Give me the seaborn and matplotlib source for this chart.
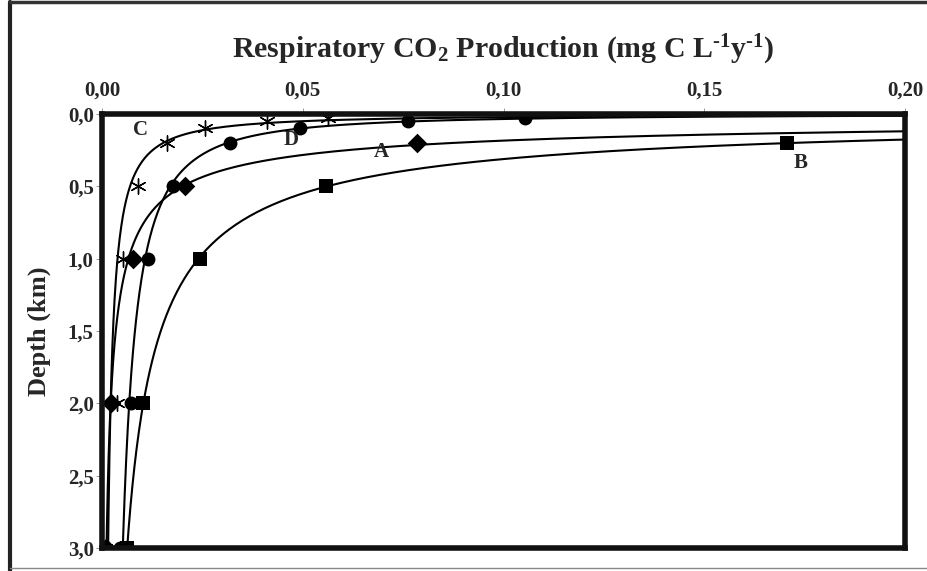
import matplotlib
matplotlib.use("Agg")
import matplotlib.pyplot as plt
import numpy as np
import pandas as pd
import seaborn as sns
from matplotlib.lines import Line2D
from matplotlib.ticker import FuncFormatter

# respiratory CO2 production (mg C L-1 y-1) read per depth (km)
DEPTH_A = [0.2, 0.5, 1.0, 2.0, 3.0]
RESP_A = [0.0785, 0.0207, 0.0078, 0.0022, 0.0010]
DEPTH_B = [0.2, 0.5, 1.0, 2.0, 3.0]
RESP_B = [0.1707, 0.0559, 0.0245, 0.0103, 0.0062]
DEPTH_C = [0.03, 0.05, 0.1, 0.2, 0.5, 1.0, 2.0, 3.0]
RESP_C = [0.0563, 0.0411, 0.0257, 0.0162, 0.0090, 0.0053, 0.0038, 0.0008]
DEPTH_D = [0.03, 0.05, 0.1, 0.2, 0.5, 1.0, 2.0, 3.0]
RESP_D = [0.1054, 0.0763, 0.0494, 0.0319, 0.0177, 0.0115, 0.0073, 0.0045]

SERIES = {
    "A": (RESP_A, DEPTH_A, "D", 10),
    "B": (RESP_B, DEPTH_B, "s", 10),
    "C": (RESP_C, DEPTH_C, (6, 2, 0), 11),
    "D": (RESP_D, DEPTH_D, "o", 10),
}
# where the series letters sit (x, depth)
LABEL_POS = {"A": (0.0696, 0.26), "B": (0.174, 0.34), "C": (0.0095, 0.11), "D": (0.047, 0.18)}

sns.set_theme(style="white")
plt.rcParams["font.family"] = ["Liberation Serif", "DejaVu Serif"]
plt.rcParams["font.weight"] = "bold"
plt.rcParams["mathtext.fontset"] = "custom"
plt.rcParams["mathtext.rm"] = "Liberation Serif:bold"
plt.rcParams["mathtext.it"] = "Liberation Serif:bold"
plt.rcParams["mathtext.bf"] = "Liberation Serif:bold"

fig = plt.figure(figsize=(9.28, 5.71), dpi=100)
ax = fig.add_axes([102 / 928, 1 - 548 / 571, 803 / 928, 434 / 571])

for name, (resp, depth, marker, ms) in SERIES.items():
    df = pd.DataFrame({"resp": resp, "depth": depth})
    # power trendline depth = a * resp^b, fitted in log space
    b, loga = np.polyfit(np.log(df["resp"]), np.log(df["depth"]), 1)
    xs = np.geomspace(0.0003, 0.2, 400)
    ax.plot(xs, np.exp(loga) * xs ** b, color="black", lw=1.5, zorder=2)
    sns.scatterplot(data=df, x="resp", y="depth", marker=marker, s=ms ** 2,
                    color="black", edgecolor="black", linewidth=1.0 if name == "C" else 0,
                    ax=ax, zorder=3)
    lx, ly = LABEL_POS[name]
    ax.text(lx, ly, name, fontsize=15, fontweight="bold", ha="center", va="center")

ax.set_xlim(0, 0.2)
ax.set_ylim(3.0, 0.0)
ax.xaxis.tick_top()
ax.xaxis.set_label_position("top")
ax.set_xticks([0, 0.05, 0.10, 0.15, 0.20])
ax.set_yticks([0, 0.5, 1.0, 1.5, 2.0, 2.5, 3.0])
ax.xaxis.set_major_formatter(FuncFormatter(lambda v, p: f"{v:.2f}".replace(".", ",")))
ax.yaxis.set_major_formatter(FuncFormatter(lambda v, p: f"{v:.1f}".replace(".", ",")))
ax.tick_params(axis="both", labelsize=15, length=4, width=0.6, color="#888888")
ax.tick_params(axis="x", top=True, bottom=False, pad=6)
ax.tick_params(axis="y", left=True, pad=2)
for lab in ax.get_xticklabels() + ax.get_yticklabels():
    lab.set_fontweight("bold")

ax.set_xlabel("Respiratory CO$_2$ Production (mg C L$^{\u2010 1}$y$^{\u2010 1}$)",
              fontsize=21.5, fontweight="bold", labelpad=16)
ax.set_ylabel("Depth (km)", fontsize=19, fontweight="bold", labelpad=12)

for sp in ax.spines.values():
    sp.set_visible(True)
    sp.set_color("#111111")
    sp.set_linewidth(4)
    sp.set_zorder(5)

# outer frame of the figure
fig.add_artist(Line2D([10 / 928, 10 / 928], [0.5 / 571, 1 - 2 / 571], transform=fig.transFigure,
                      color="#222222", lw=3))
fig.add_artist(Line2D([10 / 928, 1.0], [1 - 2 / 571, 1 - 2 / 571], transform=fig.transFigure,
                      color="#333333", lw=2.5))
fig.add_artist(Line2D([10 / 928, 1.0], [3 / 571, 3 / 571], transform=fig.transFigure,
                      color="#888888", lw=1))

fig.savefig("out.png", dpi=100)
